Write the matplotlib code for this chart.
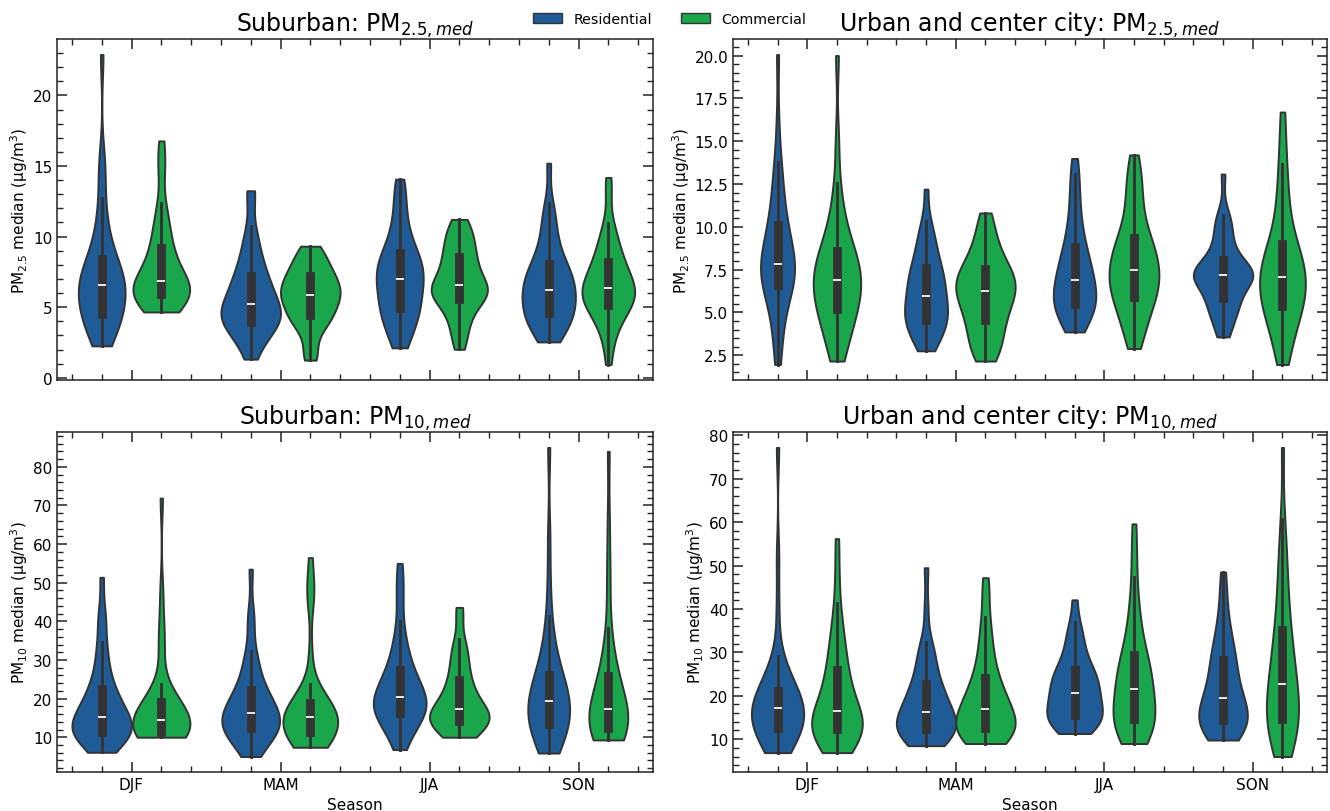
import numpy as np
import pandas as pd
import matplotlib
matplotlib.use("Agg")
import matplotlib.pyplot as plt
import seaborn as sns
from matplotlib.ticker import MultipleLocator
from matplotlib.patches import Patch

seasons = ["DJF", "MAM", "JJA", "SON"]
site_types = ["Residential", "Commercial"]
colors = ["#1f5b96", "#1aa64a"]
edge_color = "#333333"

# ---- Suburban PM2.5 (values per season) ----
sub_pm25_res = [
    [2.26, 2.7, 3.1, 3.4, 3.7, 3.9, 4.1, 4.25, 4.38, 4.6, 4.9, 5.2, 5.5, 5.8, 6.0, 6.2, 6.35, 6.5,
     6.6, 6.7, 6.8, 7.0, 7.2, 7.5, 7.8, 8.0, 8.3, 8.7, 9.2, 9.8, 10.5, 11.5, 12.7, 14.8, 15.3, 22.9],
    [1.32, 2.0, 2.5, 2.9, 3.2, 3.45, 3.6, 3.75, 3.85, 4.0, 4.15, 4.3, 4.45, 4.6, 4.75, 4.85, 4.95, 5.1,
     5.3, 5.5, 5.75, 6.0, 6.25, 6.5, 6.75, 6.95, 7.15, 7.5, 7.9, 8.3, 8.8, 9.3, 9.9, 10.73, 12.9, 13.25],
    [2.12, 2.5, 3.0, 3.4, 3.8, 4.1, 4.35, 4.55, 4.75, 5.0, 5.25, 5.5, 5.75, 6.0, 6.25, 6.5, 6.7, 6.9,
     7.1, 7.3, 7.5, 7.7, 7.9, 8.1, 8.3, 8.5, 8.75, 9.0, 9.4, 9.8, 10.3, 10.9, 11.6, 12.5, 13.3, 14.07],
    [2.54, 2.8, 3.1, 3.4, 3.7, 3.95, 4.15, 4.3, 4.45, 4.65, 4.85, 5.05, 5.25, 5.45, 5.65, 5.85, 6.0, 6.15,
     6.35, 6.55, 6.75, 6.95, 7.15, 7.35, 7.55, 7.75, 7.95, 8.3, 8.7, 9.1, 9.6, 10.2, 10.9, 11.6, 12.35, 15.2],
]
sub_pm25_com = [
    [4.66, 4.7, 4.8, 5.0, 5.2, 5.4, 5.55, 5.7, 5.85, 5.95, 6.05, 6.15, 6.25, 6.35, 6.45, 6.55, 6.65, 6.75,
     6.9, 7.1, 7.3, 7.6, 7.9, 8.2, 8.5, 8.8, 9.1, 9.5, 10.0, 10.5, 11.0, 11.6, 12.38, 14.5, 15.5, 16.78],
    [1.25, 1.5, 2.2, 3.0, 3.5, 3.8, 4.0, 4.15, 4.3, 4.5, 4.7, 4.9, 5.1, 5.3, 5.45, 5.6, 5.7, 5.8,
     5.95, 6.1, 6.25, 6.4, 6.55, 6.7, 6.85, 7.0, 7.15, 7.35, 7.55, 7.75, 7.95, 8.2, 8.5, 8.8, 9.1, 9.32],
    [2.02, 2.6, 3.2, 3.7, 4.1, 4.5, 4.85, 5.15, 5.45, 5.65, 5.75, 5.85, 5.95, 6.05, 6.15, 6.25, 6.35, 6.5,
     6.65, 6.85, 7.05, 7.25, 7.5, 7.75, 8.0, 8.25, 8.5, 8.7, 9.0, 9.3, 9.6, 9.9, 10.2, 10.5, 10.85, 11.22],
    [0.94, 2.26, 3.0, 3.6, 4.0, 4.3, 4.6, 4.85, 5.05, 5.2, 5.35, 5.5, 5.65, 5.8, 5.95, 6.05, 6.15, 6.3,
     6.45, 6.6, 6.8, 7.0, 7.2, 7.4, 7.6, 7.85, 8.1, 8.4, 8.7, 9.0, 9.4, 9.9, 10.4, 10.96, 13.0, 14.19],
]

# ---- Urban and center city PM2.5 ----
urb_pm25_res = [
    [1.96, 2.7, 3.6, 4.3, 4.9, 5.4, 5.8, 6.15, 6.45, 6.65, 6.8, 6.95, 7.1, 7.25, 7.4, 7.5, 7.6, 7.75,
     7.95, 8.15, 8.4, 8.65, 8.9, 9.15, 9.4, 9.7, 10.0, 10.4, 10.8, 11.3, 11.9, 12.6, 13.3, 13.79, 16.0, 20.06],
    [2.76, 3.0, 3.3, 3.55, 3.8, 4.0, 4.15, 4.3, 4.43, 4.6, 4.75, 4.9, 5.05, 5.2, 5.4, 5.55, 5.7, 5.85,
     6.05, 6.25, 6.45, 6.65, 6.85, 7.05, 7.2, 7.35, 7.5, 7.8, 8.1, 8.4, 8.7, 9.0, 9.4, 9.9, 10.36, 12.2],
    [3.86, 4.1, 4.35, 4.6, 4.8, 5.0, 5.15, 5.3, 5.4, 5.55, 5.7, 5.85, 6.0, 6.15, 6.3, 6.45, 6.6, 6.8,
     7.0, 7.2, 7.4, 7.6, 7.8, 8.0, 8.2, 8.45, 8.75, 9.1, 9.5, 9.9, 10.4, 11.0, 11.7, 12.4, 13.11, 13.99],
    [3.57, 3.9, 4.3, 4.7, 5.0, 5.25, 5.45, 5.55, 5.6, 5.9, 6.2, 6.5, 6.7, 6.85, 6.95, 7.03, 7.1, 7.15,
     7.2, 7.25, 7.3, 7.36, 7.42, 7.5, 7.6, 7.75, 8.0, 8.3, 8.6, 8.9, 9.3, 9.7, 10.1, 10.5, 10.69, 13.08],
]
urb_pm25_com = [
    [2.16, 2.5, 3.0, 3.5, 3.9, 4.2, 4.5, 4.75, 5.0, 5.25, 5.45, 5.65, 5.85, 6.05, 6.25, 6.45, 6.6, 6.8,
     6.95, 7.1, 7.3, 7.5, 7.7, 7.9, 8.1, 8.3, 8.5, 8.8, 9.1, 9.5, 10.0, 10.6, 11.4, 12.53, 15.0, 20.0],
    [2.16, 2.4, 2.7, 3.0, 3.3, 3.6, 3.9, 4.15, 4.38, 4.6, 4.85, 5.1, 5.3, 5.5, 5.7, 5.85, 6.0, 6.15,
     6.3, 6.45, 6.6, 6.75, 6.9, 7.05, 7.2, 7.35, 7.5, 7.7, 7.95, 8.2, 8.5, 8.8, 9.2, 9.7, 10.2, 10.81],
    [2.89, 3.4, 3.9, 4.3, 4.7, 5.0, 5.3, 5.55, 5.8, 5.95, 6.15, 6.35, 6.55, 6.75, 6.95, 7.1, 7.25, 7.4,
     7.6, 7.8, 8.0, 8.2, 8.45, 8.65, 8.85, 9.05, 9.28, 9.6, 10.0, 10.5, 11.0, 11.6, 12.2, 12.8, 13.31, 14.2],
    [1.96, 2.5, 3.1, 3.6, 4.0, 4.4, 4.7, 4.95, 5.2, 5.4, 5.6, 5.8, 6.0, 6.2, 6.4, 6.6, 6.8, 6.95,
     7.15, 7.35, 7.55, 7.75, 7.95, 8.15, 8.4, 8.65, 8.9, 9.3, 9.8, 10.4, 11.0, 11.8, 12.7, 13.66, 15.0, 16.7],
]

# ---- Suburban PM10 ----
sub_pm10_res = [
    [6.1, 7.5, 8.5, 9.2, 9.8, 10.2, 10.5, 10.8, 11.0, 11.4, 11.8, 12.2, 12.6, 13.0, 13.5, 14.0, 14.5, 15.0,
     15.6, 16.3, 17.0, 17.8, 18.6, 19.4, 20.2, 21.1, 22.0, 23.5, 25.0, 27.0, 29.5, 32.0, 34.7, 40.0, 42.0, 51.4],
    [5.0, 6.5, 7.8, 8.8, 9.6, 10.3, 10.9, 11.4, 11.9, 12.4, 12.8, 13.2, 13.6, 14.0, 14.4, 14.8, 15.3, 15.9,
     16.5, 17.1, 17.7, 18.4, 19.1, 19.8, 20.5, 21.2, 22.0, 23.3, 24.8, 26.5, 28.5, 30.5, 32.3, 39.0, 42.0, 53.5],
    [6.8, 9.0, 10.8, 12.0, 13.0, 13.9, 14.6, 15.3, 15.9, 16.5, 17.0, 17.5, 18.0, 18.4, 18.8, 19.2, 19.6, 20.0,
     20.7, 21.4, 22.1, 22.8, 23.6, 24.4, 25.3, 26.2, 27.1, 28.5, 30.0, 31.8, 33.8, 36.0, 40.2, 46.0, 50.0, 55.0],
    [5.9, 7.0, 8.2, 9.2, 10.1, 10.9, 11.6, 12.3, 12.9, 13.6, 14.3, 15.0, 15.7, 16.4, 17.0, 17.6, 18.3, 19.0,
     19.7, 20.4, 21.1, 21.9, 22.7, 23.5, 24.3, 25.0, 25.8, 27.5, 29.5, 31.5, 34.0, 37.0, 41.3, 50.0, 62.0, 85.0],
]
sub_pm10_com = [
    [10.0, 10.0, 10.1, 10.2, 10.3, 10.45, 10.6, 10.8, 11.0, 11.3, 11.6, 11.9, 12.3, 12.7, 13.1, 13.5, 13.9, 14.3,
     14.8, 15.3, 15.8, 16.3, 16.8, 17.3, 17.8, 18.4, 19.0, 19.8, 20.8, 22.0, 23.7, 32.0, 35.0, 40.0, 48.0, 71.9],
    [7.4, 7.6, 8.0, 8.5, 9.0, 9.5, 10.0, 10.5, 10.9, 11.4, 11.8, 12.3, 12.8, 13.3, 13.8, 14.2, 14.6, 15.0,
     15.4, 15.8, 16.2, 16.6, 17.0, 17.4, 17.8, 18.2, 18.6, 19.5, 20.5, 21.8, 23.7, 32.0, 45.0, 47.5, 50.0, 56.5],
    [10.0, 10.3, 10.8, 11.4, 12.0, 12.6, 13.1, 13.6, 14.05, 14.4, 14.7, 15.0, 15.3, 15.6, 15.9, 16.3, 16.6, 17.0,
     17.6, 18.3, 19.0, 19.8, 20.6, 21.5, 22.5, 23.5, 24.6, 25.8, 27.2, 28.8, 30.5, 32.0, 33.5, 35.3, 41.5, 43.6],
    [9.3, 9.5, 9.8, 10.2, 10.6, 11.0, 11.4, 11.8, 12.1, 12.6, 13.1, 13.6, 14.1, 14.6, 15.1, 15.6, 16.3, 17.0,
     17.8, 18.6, 19.5, 20.4, 21.4, 22.4, 23.4, 24.4, 25.4, 27.0, 29.0, 31.5, 34.5, 38.3, 48.0, 55.0, 66.0, 84.0],
]

# ---- Urban and center city PM10 ----
urb_pm10_res = [
    [6.9, 7.8, 8.7, 9.5, 10.2, 10.8, 11.3, 11.7, 12.1, 12.6, 13.1, 13.6, 14.1, 14.7, 15.3, 15.9, 16.5, 17.0,
     17.4, 17.8, 18.2, 18.6, 19.0, 19.4, 19.9, 20.3, 20.8, 21.8, 22.9, 24.2, 25.8, 27.5, 29.2, 40.0, 52.0, 77.2],
    [8.5, 8.9, 9.4, 9.9, 10.4, 10.9, 11.3, 11.7, 12.1, 12.5, 12.9, 13.3, 13.7, 14.1, 14.5, 14.9, 15.4, 15.9,
     16.6, 17.3, 18.0, 18.7, 19.4, 20.1, 20.8, 21.6, 22.4, 23.5, 24.8, 26.2, 27.8, 29.5, 31.0, 32.4, 40.0, 49.5],
    [11.3, 11.9, 12.5, 13.0, 13.5, 13.9, 14.3, 14.7, 15.1, 15.7, 16.3, 16.9, 17.5, 18.0, 18.5, 19.0, 19.6, 20.3,
     21.0, 21.6, 22.2, 22.8, 23.4, 24.0, 24.6, 25.2, 25.8, 26.6, 27.6, 28.8, 30.1, 31.6, 33.2, 35.0, 36.9, 42.1],
    [9.8, 10.3, 10.8, 11.3, 11.8, 12.3, 12.8, 13.4, 14.0, 14.6, 15.2, 15.7, 16.2, 16.8, 17.3, 17.8, 18.4, 19.0,
     19.8, 20.7, 21.7, 22.7, 23.7, 24.7, 25.7, 26.8, 27.9, 29.0, 30.2, 31.5, 33.0, 34.8, 37.0, 40.0, 44.0, 48.5],
]
urb_pm10_com = [
    [6.9, 7.4, 8.0, 8.7, 9.4, 10.1, 10.8, 11.5, 12.1, 12.5, 12.9, 13.3, 13.7, 14.1, 14.5, 15.0, 15.5, 16.0,
     16.8, 17.7, 18.7, 19.7, 20.8, 21.9, 23.0, 24.2, 25.5, 27.0, 28.6, 30.4, 32.4, 34.6, 37.0, 41.3, 48.0, 56.2],
    [9.0, 9.2, 9.6, 10.0, 10.5, 10.9, 11.3, 11.7, 12.1, 12.6, 13.1, 13.6, 14.1, 14.6, 15.0, 15.4, 15.9, 16.5,
     17.2, 17.9, 18.6, 19.3, 20.0, 20.8, 21.8, 22.7, 23.7, 25.0, 26.5, 28.3, 30.3, 32.5, 35.0, 38.2, 43.0, 47.2],
    [9.0, 9.6, 10.3, 11.0, 11.7, 12.3, 12.9, 13.6, 14.2, 14.9, 15.6, 16.3, 17.0, 17.8, 18.6, 19.4, 20.3, 21.1,
     22.0, 22.9, 23.8, 24.7, 25.6, 26.5, 27.3, 28.1, 28.9, 30.5, 32.3, 34.3, 36.5, 39.0, 42.0, 47.3, 53.0, 59.6],
    [6.0, 7.2, 8.4, 9.5, 10.5, 11.5, 12.4, 13.2, 14.0, 14.9, 15.8, 16.7, 17.6, 18.5, 19.4, 20.3, 21.2, 22.0,
     23.3, 24.6, 26.0, 27.4, 28.8, 30.2, 31.7, 33.2, 34.6, 37.0, 39.5, 42.2, 45.0, 48.0, 51.5, 55.5, 60.8, 77.2],
]

panels = [
    ("Suburban: PM$_{2.5,med}$", "PM$_{2.5}$ median (µg/m$^3$)", sub_pm25_res, sub_pm25_com, 5, 1),
    ("Urban and center city: PM$_{2.5,med}$", "PM$_{2.5}$ median (µg/m$^3$)", urb_pm25_res, urb_pm25_com, 2.5, 0.5),
    ("Suburban: PM$_{10,med}$", "PM$_{10}$ median (µg/m$^3$)", sub_pm10_res, sub_pm10_com, 10, 2),
    ("Urban and center city: PM$_{10,med}$", "PM$_{10}$ median (µg/m$^3$)", urb_pm10_res, urb_pm10_com, 10, 2),
]

W, H = 1330, 812
fig = plt.figure(figsize=(W / 100, H / 100), dpi=100)
boxes = [(57, 40, 653, 381), (733, 40, 1327, 381), (57, 433, 653, 773), (733, 433, 1327, 773)]

for i, ((title, ylab, res, com, major, minor), (x0, y0, x1, y1)) in enumerate(zip(panels, boxes)):
    ax = fig.add_axes([x0 / W, 1 - y1 / H, (x1 - x0) / W, (y1 - y0) / H])
    rows = []
    for s, vals in zip(seasons, res):
        rows += [(s, "Residential", v) for v in vals]
    for s, vals in zip(seasons, com):
        rows += [(s, "Commercial", v) for v in vals]
    df = pd.DataFrame(rows, columns=["season", "type", "value"])
    sns.violinplot(data=df, x="season", y="value", hue="type", order=seasons,
                   hue_order=site_types, palette=colors, saturation=1, cut=0,
                   inner="box", linewidth=1.4, linecolor=edge_color, bw_adjust=0.8,
                   density_norm="area", legend=False, ax=ax)
    ax.set_title(title, fontsize=17)
    ax.set_ylabel(ylab, fontsize=11, labelpad=2)
    ax.yaxis.set_major_locator(MultipleLocator(major))
    ax.yaxis.set_minor_locator(MultipleLocator(minor))
    ax.xaxis.set_minor_locator(MultipleLocator(0.2))
    ax.set_xlim(-0.5, 3.5)
    ax.tick_params(which="both", direction="in", top=True, right=True, labelsize=11, color="#222222")
    ax.tick_params(which="major", length=7, width=1.1)
    ax.tick_params(which="minor", length=4, width=1.0)
    for sp in ax.spines.values():
        sp.set_color("#222222")
        sp.set_linewidth(1.1)
    if i < 2:
        ax.set_xlabel("")
        ax.tick_params(labelbottom=False)
    else:
        ax.set_xlabel("Season", fontsize=11)

handles = [Patch(facecolor=colors[0], edgecolor=edge_color, label="Residential"),
           Patch(facecolor=colors[1], edgecolor=edge_color, label="Commercial")]
fig.legend(handles=handles, loc="upper center", bbox_to_anchor=(0.5035, 1.0), ncol=2,
           frameon=False, fontsize=10.2, handlelength=2.1)

fig.savefig("out.png", dpi=100)
